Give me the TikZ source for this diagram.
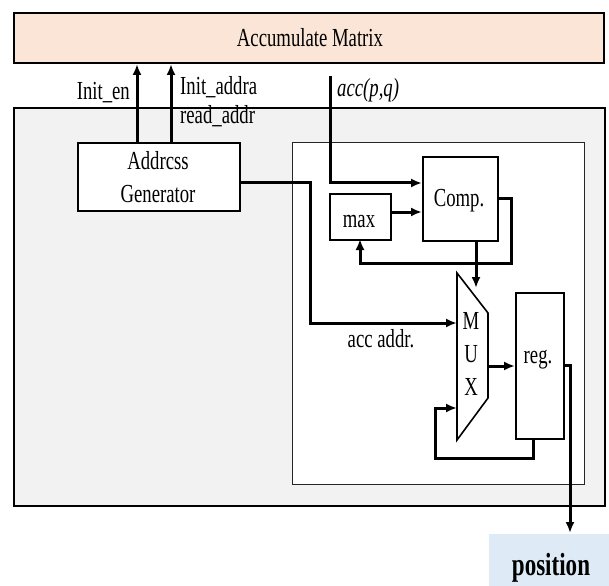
\documentclass[tikz,border=0pt]{standalone}
\usepackage{fontspec}
\setmainfont{Liberation Serif}[FakeStretch=0.72]
\usetikzlibrary{arrows.meta}
\definecolor{peach}{HTML}{FBE5D6}
\definecolor{panel}{HTML}{F2F2F2}
\definecolor{paleblue}{HTML}{DEEBF7}
\begin{document}
\begin{tikzpicture}[x=1pt,y=-1pt,
  txt/.style={inner sep=0pt, anchor=base, font=\fontsize{26}{28}\selectfont},
  box/.style={draw=black, line width=1.6pt, fill=white, inner sep=0pt, anchor=north west},
  wire/.style={line width=3pt, line join=miter},
  arr/.style={wire, -{Latex[length=11pt,width=9pt]}}]
\useasboundingbox (0,0) rectangle (609,585);
% boxes
\node[box, fill=peach, line width=2pt, minimum width=590pt, minimum height=50pt] (mat) at (13,12) {};
\node[box, fill=panel, line width=1.8pt, minimum width=591pt, minimum height=398pt] (outer) at (13,107) {};
\node[box, draw=black!85, line width=1pt, minimum width=292pt, minimum height=342pt] (inner) at (292,142) {};
\node[box, minimum width=162pt, minimum height=68pt] (addr) at (77,142) {};
\node[box, minimum width=75pt, minimum height=84pt] (comp) at (422,156) {};
\node[box, minimum width=61pt, minimum height=46pt] (max) at (329,193) {};
\node[box, minimum width=48pt, minimum height=146pt] (reg) at (515,292) {};
\node[box, draw=none, fill=paleblue, minimum width=121pt, minimum height=52pt] (pos) at (488,533) {};
\draw[line width=1.6pt, fill=white] (457,273) coordinate (m1) -- (488,313) coordinate (m2)
  -- (488,398) coordinate (m3) -- (457,440) coordinate (m4) -- cycle;
% texts
\node[txt] (tmat) at (310,47) {Accumulate Matrix};
\node[txt] (taddr1) at (158,170) {Addrcss};
\node[txt] (taddr2) at (158,203) {Generator};
\node[txt] (tcomp) at (459,207) {Comp.};
\node[txt] (tmax) at (359,227) {max};
\node[txt] (treg) at (538,363) {reg.};
\node[txt] (tM) at (471,329) {M};
\node[txt] (tU) at (471,362) {U};
\node[txt] (tX) at (471,395) {X};
\node[txt, anchor=base east] (len) at (130,100) {Init\_en};
\node[txt, anchor=base west] (lia) at (180,95) {Init\_addra};
\node[txt, anchor=base west] (lra) at (180,124) {read\_addr};
\node[txt, anchor=base west] (lacc) at (337,97) {\itshape acc(p,q)};
\node[txt] (laddr) at (381,347) {acc addr.};
\node[txt, font=\bfseries\fontsize{32}{36}\selectfont] (tpos) at (551,575) {position};
% ports
\coordinate (en) at (137,142);
\coordinate (ia) at (171,142);
\coordinate (accsrc) at (330,76);
\coordinate (accin) at (422,183);
\coordinate (agout) at (239,183);
\coordinate (muxa) at (457,323);
\coordinate (muxb) at (457,408);
\coordinate (muxout) at (488,366);
\coordinate (cout) at (497,198);
\coordinate (cdown) at (476,240);
\coordinate (cdownend) at (476,288);
\coordinate (regout) at (563,365);
\coordinate (regbot) at (533,438);
% connectors
\draw[arr] (en) -- (en |- mat.south);
\draw[arr] (ia) -- (ia |- mat.south);
\draw[arr] (accsrc) |- (accin);
\draw[arr] (agout) -- (310,183) |- (muxa);
\draw[arr] (max.east |- 0,212) -- (comp.west |- 0,212);
\draw[arr] (cout) -- (511,198) -- (511,263) -- (360,263) -- (360,239);
\draw[arr] (cdown) -- (cdownend);
\draw[arr] (muxout) -- (reg.west |- muxout);
\draw[arr] (regout) -- (570,365) -- (570,533);
\draw[arr] (regbot) -- (533,458) -- (435,458) -- (435,408) -- (muxb);
\end{tikzpicture}
\end{document}
